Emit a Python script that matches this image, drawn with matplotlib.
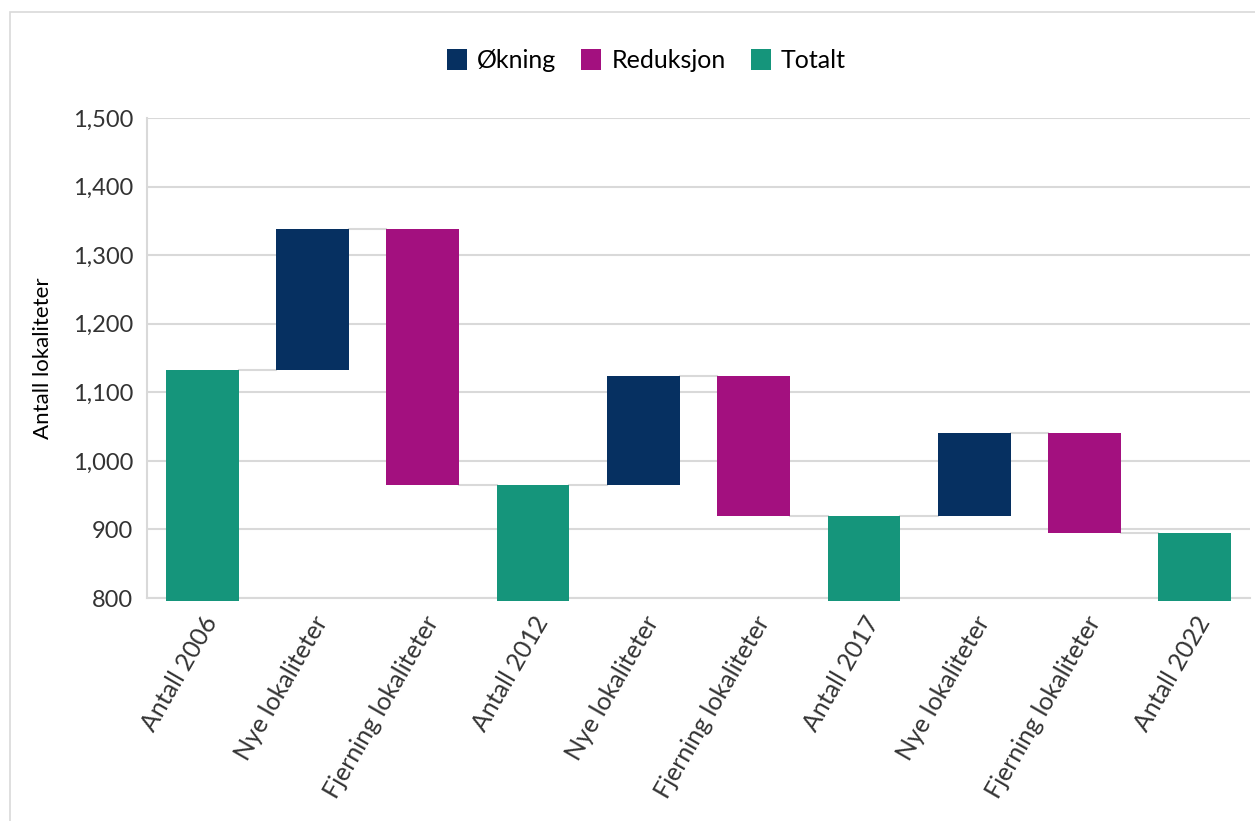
import matplotlib.pyplot as plt
from matplotlib.patches import Patch, Rectangle
import numpy as np

plt.rcParams['font.family'] = ['Lato', 'DejaVu Sans']

categories = ["Antall 2006", "Nye lokaliteter", "Fjerning lokaliteter", "Antall 2012",
              "Nye lokaliteter", "Fjerning lokaliteter", "Antall 2017",
              "Nye lokaliteter", "Fjerning lokaliteter", "Antall 2022"]
kinds = ["total", "up", "down", "total", "up", "down", "total", "up", "down", "total"]
# start / end level of each step
starts = [800, 1133, 1338, 800, 965, 1124, 800, 920, 1041, 800]
ends = [1133, 1338, 965, 965, 1124, 920, 920, 1041, 895, 895]

colors = {"up": "#063061", "down": "#A3107F", "total": "#15957B"}
labels = {"up": "Økning", "down": "Reduksjon", "total": "Totalt"}

fig = plt.figure(figsize=(12.55, 8.21), dpi=100)
ax = fig.add_axes([147 / 1255, 1 - 598 / 821, (1250 - 147) / 1255, (598 - 118) / 821])

x = np.arange(len(categories))
width = 0.66
for i, (k, s, e) in enumerate(zip(kinds, starts, ends)):
    lo, hi = min(s, e), max(s, e)
    if k == "total":
        lo = 796
    ax.bar(x[i], hi - lo, bottom=lo, width=width, color=colors[k],
           edgecolor="none", zorder=3, clip_on=False)

# connector lines
for i in range(len(categories) - 1):
    ax.plot([x[i] + width / 2, x[i + 1] - width / 2], [ends[i], ends[i]],
            color="#d9d9d9", lw=1.5, zorder=2)

ax.set_xlim(-0.5, len(categories) - 0.5)
ax.set_ylim(800, 1500)
ax.set_yticks(range(800, 1501, 100))
ax.set_yticklabels([f"{v:,}" for v in range(800, 1501, 100)], fontsize=17, color="#333333")
ax.set_xticks(x)
ax.set_xticklabels(categories, rotation=60, ha="right", rotation_mode="anchor",
                   fontsize=18, color="#333333")
ax.tick_params(axis="both", length=0, pad=10)
ax.grid(axis="y", color="#d9d9d9", lw=1.5, zorder=0)
for side in ["top", "right"]:
    ax.spines[side].set_visible(False)
ax.spines["left"].set_color("#d9d9d9")
ax.spines["left"].set_linewidth(1.5)
ax.spines["bottom"].set_color("#d9d9d9")
ax.spines["bottom"].set_linewidth(1.5)
ax.set_ylabel("Antall lokaliteter", fontsize=16, labelpad=14)

handles = [Patch(facecolor=colors[k], label=labels[k]) for k in ["up", "down", "total"]]
fig.legend(handles=handles, loc="center", bbox_to_anchor=(0.515, 1 - 61 / 821), ncol=3,
           frameon=False, fontsize=18, handlelength=0.8, handleheight=0.9,
           handletextpad=0.4, columnspacing=1.0)

fig.patches.append(Rectangle((10 / 1255, -0.1), 1.1, 1.1 - 12 / 821, transform=fig.transFigure,
                             fill=False, edgecolor="#d9d9d9", lw=1.2))

fig.savefig("out.png", dpi=100)
